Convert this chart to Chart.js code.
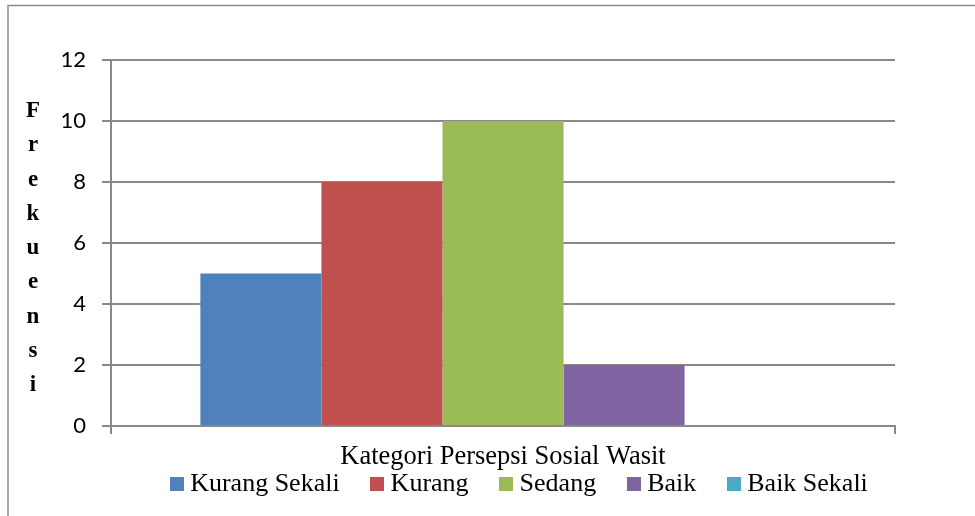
<!DOCTYPE html>
<html>
<head>
<meta charset="utf-8">
<title>Kategori Persepsi Sosial Wasit</title>
<script src="https://cdn.jsdelivr.net/npm/chart.js@4.4.1/dist/chart.umd.min.js"></script>
<style>
    body { margin: 0; background: #fff; }
    canvas { display: block; }
</style>
</head>
<body>
<canvas id="myChart" width="975" height="516"></canvas>
<script>
// data
var categories = ['Kurang Sekali', 'Kurang', 'Sedang', 'Baik', 'Baik Sekali'];
var frekuensi = [5, 8, 10, 2, 0];
var yTicks = [0, 2, 4, 6, 8, 10, 12];
var xTitle = 'Kategori Persepsi Sosial Wasit';
var yTitle = 'Frekuensi';

var barColors = ['#4F81BD', '#C0504D', '#9BBB59', '#8064A2', '#4BACC6'];
var serif = '"Liberation Serif", "Times New Roman", serif';
var gridColor = '#898989';

// small square used as legend marker (keeps the text close to the box like Excel)
function makeSwatch(color) {
    var c = document.createElement('canvas');
    c.width = 14;
    c.height = 14;
    var g = c.getContext('2d');
    g.fillStyle = color;
    g.fillRect(0, 0, 14, 14);
    return c;
}

// white background + the grey frame round the chart
var framePlugin = {
    id: 'frame',
    beforeDraw: function (chart) {
        var ctx = chart.ctx;
        ctx.save();
        ctx.fillStyle = '#fff';
        ctx.fillRect(0, 0, chart.width, chart.height);
        ctx.strokeStyle = '#8c8c8c';
        ctx.lineWidth = 1.5;
        ctx.strokeRect(8, 5.5, chart.width + 50, chart.height + 50);
        ctx.restore();
    }
};

// y title is written as a column of upright letters
var stackedTitlePlugin = {
    id: 'stackedTitle',
    afterDraw: function (chart) {
        var ctx = chart.ctx;
        ctx.save();
        ctx.font = 'bold 23px ' + serif;
        ctx.fillStyle = '#000';
        ctx.textAlign = 'center';
        ctx.textBaseline = 'alphabetic';
        for (var i = 0; i < yTitle.length; i++) {
            ctx.fillText(yTitle[i], 33, 117 + i * 34.25);
        }
        ctx.restore();
    }
};

// legend sits a little right of the plot centre in the original
var legendShiftPlugin = {
    id: 'legendShift',
    afterLayout: function (chart) {
        chart.legend.left += 19;
        chart.legend.right += 19;
    }
};

var datasets = categories.map(function (name, i) {
    return {
        label: name,
        data: [frekuensi[i]],
        backgroundColor: barColors[i],
        borderWidth: 0,
        pointStyle: makeSwatch(barColors[i])
    };
});

var ctx = document.getElementById('myChart').getContext('2d');
var myChart = new Chart(ctx, {
    type: 'bar',
    data: {
        labels: [''],
        datasets: datasets
    },
    plugins: [framePlugin, stackedTitlePlugin, legendShiftPlugin],
    options: {
        responsive: false,
        animation: false,
        layout: {
            padding: { left: 0, right: 80, top: 60, bottom: 9 }
        },
        datasets: {
            bar: {
                categoryPercentage: 0.772,
                barPercentage: 1.0
            }
        },
        scales: {
            x: {
                grid: {
                    offset: true,
                    drawOnChartArea: false,
                    tickLength: 8,
                    color: gridColor,
                    lineWidth: 2
                },
                border: { color: gridColor, width: 2 },
                ticks: { display: false },
                title: {
                    display: true,
                    text: xTitle,
                    color: '#000',
                    font: { family: serif, size: 26.5 },
                    padding: { top: 0, bottom: -38.6 }
                },
                afterFit: function (scale) {
                    scale.height = 8;
                }
            },
            y: {
                min: 0,
                max: 12,
                afterBuildTicks: function (scale) {
                    scale.ticks = yTicks.map(function (v) { return { value: v }; });
                },
                grid: {
                    color: gridColor,
                    lineWidth: 2,
                    tickLength: 9
                },
                border: { color: gridColor, width: 2 },
                ticks: {
                    color: '#000',
                    padding: 16,
                    font: { family: 'Lato, "Open Sans", sans-serif', size: 22 }
                },
                afterFit: function (scale) {
                    scale.width = 111;
                }
            }
        },
        plugins: {
            legend: {
                position: 'bottom',
                fullSize: false,
                labels: {
                    color: '#000',
                    usePointStyle: true,
                    boxWidth: 1,
                    boxHeight: 14,
                    padding: 37,
                    font: { family: serif, size: 26 }
                }
            },
            tooltip: { enabled: false }
        }
    }
});
</script>
</body>
</html>
